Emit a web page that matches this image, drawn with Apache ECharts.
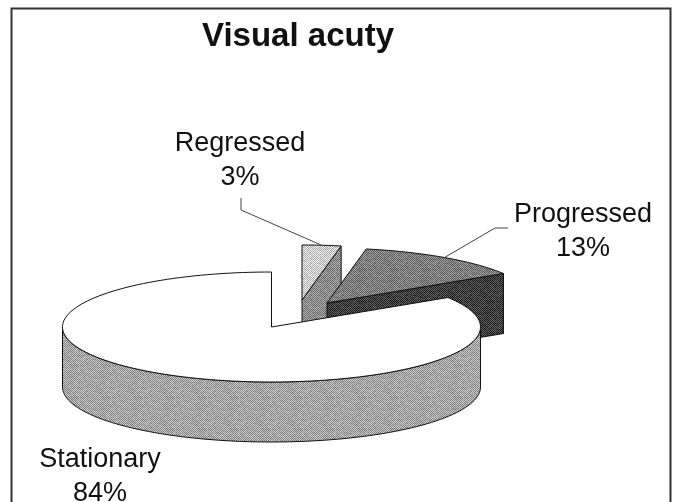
<!DOCTYPE html>
<html>
<head>
<meta charset="utf-8">
<title>Visual acuty</title>
<style>
  html, body { margin: 0; padding: 0; background: #fff; }
  #chart { width: 678px; height: 502px; }
</style>
</head>
<body>
<div id="chart"></div>
<script src="https://cdn.jsdelivr.net/npm/echarts@6/dist/echarts.min.js"></script>
<script>
const categories = ['Regressed', 'Progressed', 'Stationary']
const shares = [3, 13, 84]
const chartTitle = 'Visual acuty'

// drawing setup of the fake 3d pie, not data
const center = [271.5, 327]
const radiusX = 209
const radiusY = 55
const depth = 60
const offsets = [[30.5, -27], [55.5, -24], [0, 0]]
const topGrey = [205, 125, 255]
const wallGrey = [140, 62, 165]
const labelPos = [[240, 161], [583, 232], [100, 477]]
const leaderBends = [[[241, 198], [241, 210]], [[508, 228], [495, 228]], []]

// fine grain tile, the scan of the original is a halftone
function halftone(grey) {
  if (grey >= 255) return '#fff'
  const size = 32
  const tile = document.createElement('canvas')
  tile.width = size
  tile.height = size
  const ctx = tile.getContext('2d')
  for (let y = 0; y < size; y++) {
    for (let x = 0; x < size; x++) {
      const h = Math.sin(x * 12.9898 + y * 78.233) * 43758.5453
      const grain = (h - Math.floor(h) - 0.5) * 40
      const checker = (x + y) % 2 ? 32 : -32
      const v = Math.round(Math.min(255, Math.max(0, grey + checker + grain)))
      ctx.fillStyle = 'rgb(' + v + ',' + v + ',' + v + ')'
      ctx.fillRect(x, y, 1, 1)
    }
  }
  return { image: tile, repeat: 'repeat' }
}

function rimPoint(c, deg) {
  const t = deg * Math.PI / 180
  return [c[0] + radiusX * Math.cos(t), c[1] - radiusY * Math.sin(t)]
}

function arc(c, from, to, dy) {
  const pts = []
  const steps = Math.max(2, Math.ceil(Math.abs(to - from) / 2))
  for (let i = 0; i <= steps; i++) {
    const p = rimPoint(c, from + (to - from) * i / steps)
    pts.push([p[0], p[1] + dy])
  }
  return pts
}

// slices run clockwise from 12 o'clock
const total = shares.reduce((a, b) => a + b, 0)
const starts = []
let running = 90
shares.forEach(function (v, i) {
  starts[i] = running
  running -= v / total * 360
})

const edge = { stroke: '#111', lineWidth: 1 }

function renderSlice(params, api) {
  const i = api.value(1)
  const from = starts[i]
  const to = from - api.value(0) / total * 360
  const c = [center[0] + offsets[i][0], center[1] + offsets[i][1]]
  const children = []
  const wallFill = halftone(wallGrey[i])

  // cut face on the clockwise end, only when it looks at the viewer
  if (Math.sin((to - 90) * Math.PI / 180) < -0.01) {
    const p = rimPoint(c, to)
    children.push({
      type: 'polygon',
      shape: { points: [c, p, [p[0], p[1] + depth], [c[0], c[1] + depth]] },
      style: Object.assign({ fill: wallFill }, edge)
    })
  }

  // outer wall, front half of the ellipse only
  const lo = Math.max(to, -180)
  const hi = Math.min(from, 0)
  if (hi > lo) {
    const upper = arc(c, lo, hi, 0)
    const lower = arc(c, hi, lo, depth)
    children.push({
      type: 'polygon',
      shape: { points: upper.concat(lower) },
      style: Object.assign({ fill: wallFill }, edge)
    })
  }

  children.push({
    type: 'polygon',
    shape: { points: [c].concat(arc(c, from, to, 0)) },
    style: Object.assign({ fill: halftone(topGrey[i]) }, edge)
  })

  if (leaderBends[i].length) {
    const anchor = rimPoint(c, (from + to) / 2)
    children.push({
      type: 'polyline',
      shape: { points: leaderBends[i].concat([anchor]) },
      style: { fill: 'none', stroke: '#444', lineWidth: 1 }
    })
  }

  children.push({
    type: 'text',
    style: {
      x: labelPos[i][0],
      y: labelPos[i][1],
      text: categories[i] + '\n' + api.value(0) + '%',
      font: '27px "Liberation Sans", Arial, sans-serif',
      lineHeight: 34,
      fill: '#111',
      align: 'center',
      verticalAlign: 'middle'
    }
  })
  return { type: 'group', children: children }
}

const chart = echarts.init(document.getElementById('chart'), null, { renderer: 'canvas' })
chart.setOption({
  backgroundColor: '#fff',
  animation: false,
  title: {
    text: chartTitle,
    left: 197,
    top: 15,
    textStyle: {
      fontFamily: '"Liberation Sans", Arial, sans-serif',
      fontSize: 33,
      fontWeight: 'bold',
      color: '#111'
    }
  },
  graphic: [{
    type: 'rect',
    shape: { x: 11.5, y: 8.5, width: 659, height: 520 },
    style: { fill: 'none', stroke: '#333', lineWidth: 2 },
    silent: true
  }],
  series: [{
    type: 'custom',
    coordinateSystem: 'none',
    renderItem: renderSlice,
    data: shares.map(function (v, i) { return [v, i] })
  }]
})
</script>
</body>
</html>
